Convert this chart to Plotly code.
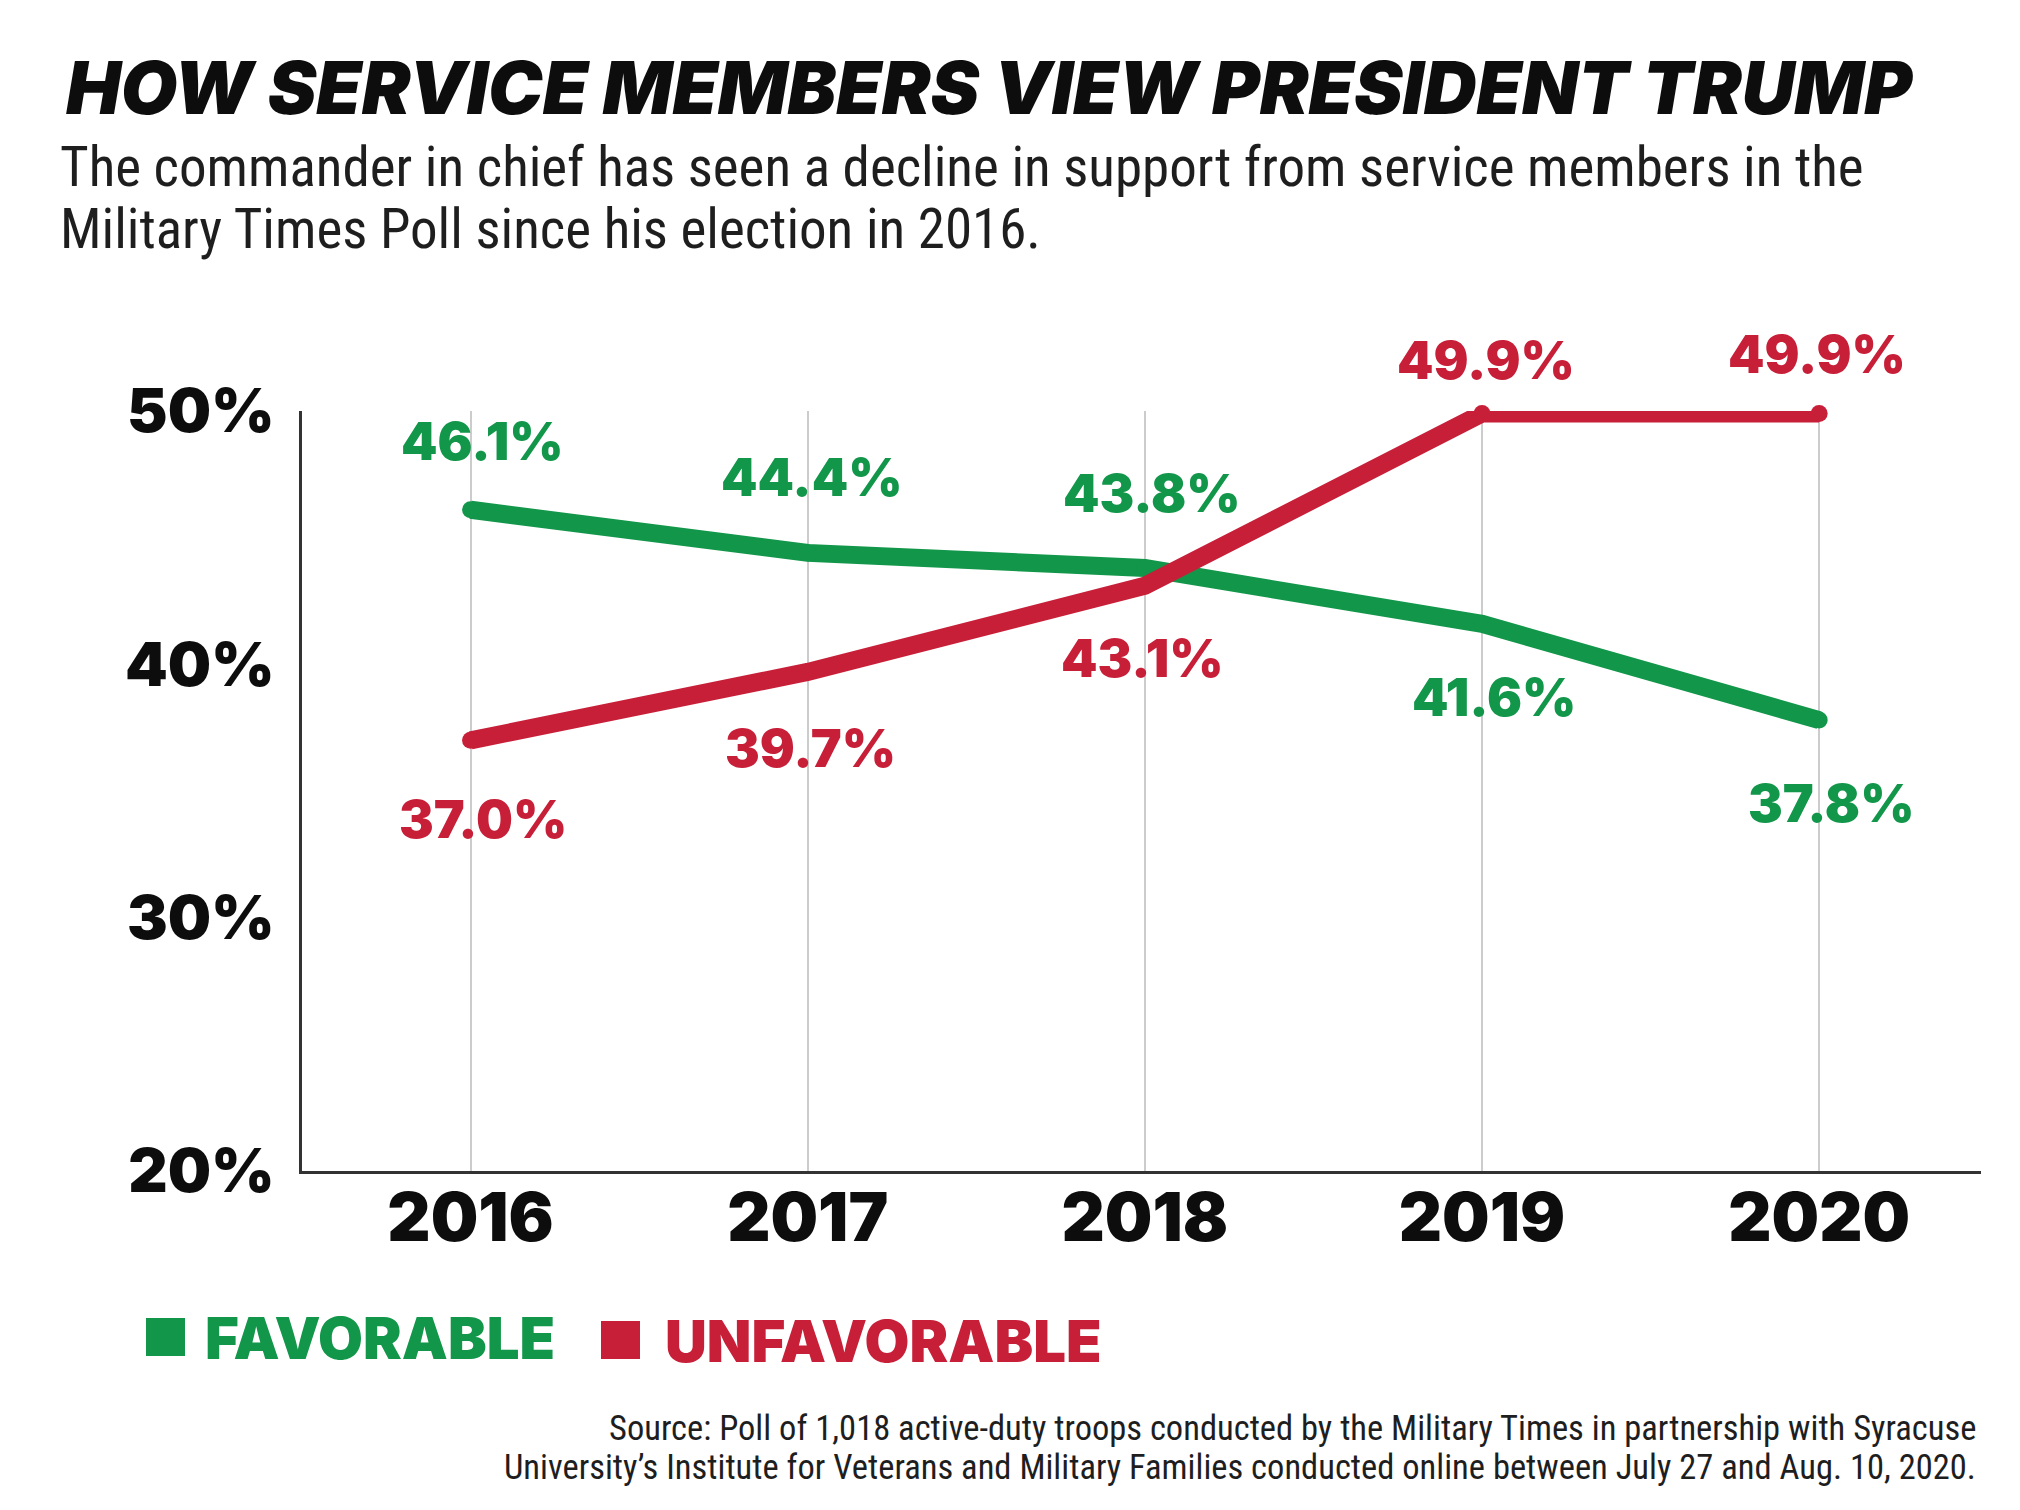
import plotly.graph_objects as go

# Poll results (percent)
years = [2016, 2017, 2018, 2019, 2020]
favorable = [46.1, 44.4, 43.8, 41.6, 37.8]
unfavorable = [37.0, 39.7, 43.1, 49.9, 49.9]
y_ticks = [20, 30, 40, 50]

GREEN = "#12964a"
RED = "#c81f39"
BOLD = "Inter"
BODY = "Roboto Condensed"

W, H = 2020, 1510
L, R, T, B = 302, 39, 411, 339
PW, PH = W - L - R, H - T - B


def px_x(x):
    # page pixel -> paper x
    return (x - L) / PW


def px_y(y):
    # page pixel -> paper y
    return (H - B - y) / PH


def note(x, y, text, font, xanchor="left", align="left"):
    return dict(x=px_x(x), y=px_y(y), xref="paper", yref="paper",
                xanchor=xanchor, yanchor="middle", align=align,
                showarrow=False, text=text, font=font)


fig = go.Figure()

for vals, color in [(favorable, GREEN), (unfavorable, RED)]:
    fig.add_trace(go.Scatter(x=years, y=vals, mode="lines+markers",
                             line=dict(color=color, width=18),
                             marker=dict(color=color, size=17),
                             cliponaxis=False, hoverinfo="skip",
                             showlegend=False))

# value labels, offset above / below each point (pixels)
fav_shift = [(12, 68), (4, 75), (7, 75), (12, -74), (12, -83)]
unf_shift = [(12, -79), (3, -77), (-2, -73), (4, 53), (-2, 59)]
annotations = []
for vals, shifts, color in [(favorable, fav_shift, GREEN),
                            (unfavorable, unf_shift, RED)]:
    for x, v, (dx, dy) in zip(years, vals, shifts):
        annotations.append(dict(x=x, y=v, xref="x", yref="y",
                                text=f"{v:.1f}%", showarrow=False,
                                xshift=dx, yshift=dy,
                                font=dict(family=BOLD, size=52, weight=900,
                                          color=color)))

annotations += [
    note(58, 167, "The commander in chief has seen a decline in support "
                  "from service members in the",
         dict(family=BODY, size=55, color="#1e1e1e")),
    note(58, 229, "Military Times Poll since his election in 2016.",
         dict(family=BODY, size=55, color="#1e1e1e")),
    note(203, 1338, "FAVORABLE",
         dict(family=BOLD, size=58, weight=900, color=GREEN)),
    note(663, 1341, "UNFAVORABLE",
         dict(family=BOLD, size=58, weight=900, color=RED)),
    note(1978, 1428, "Source: Poll of 1,018 active-duty troops conducted by "
                     "the Military Times in partnership with Syracuse",
         dict(family=BODY, size=34.5, color="#1e1e1e"), "right", "right"),
    note(1978, 1467, "University\u2019s Institute for Veterans and Military "
                     "Families conducted online between July 27 and Aug. "
                     "10, 2020.",
         dict(family=BODY, size=34.5, color="#1e1e1e"), "right", "right"),
]

shapes = [
    dict(type="rect", xref="paper", yref="paper",
         x0=px_x(146), x1=px_x(185), y0=px_y(1318), y1=px_y(1356),
         fillcolor=GREEN, line=dict(width=0)),
    dict(type="rect", xref="paper", yref="paper",
         x0=px_x(601), x1=px_x(640), y0=px_y(1321), y1=px_y(1359),
         fillcolor=RED, line=dict(width=0)),
]

fig.update_layout(
    width=W, height=H,
    margin=dict(l=L, r=R, t=T, b=B),
    paper_bgcolor="white", plot_bgcolor="white",
    title=dict(text="HOW SERVICE MEMBERS VIEW PRESIDENT TRUMP",
               xref="container", yref="container",
               x=989 / W, y=1 - 88 / H, xanchor="center", yanchor="middle",
               font=dict(family=BOLD, size=73, weight=900,
                         style="italic", color="#0d0d0d")),
    annotations=annotations, shapes=shapes,
    xaxis=dict(range=[2015.5, 2020.48], tickvals=years,
               showgrid=True, gridcolor="#cccccc", gridwidth=1.5,
               showline=True, linecolor="#333333", linewidth=3,
               zeroline=False, ticks="", ticklabelstandoff=-13,
               tickfont=dict(family=BOLD, size=67, weight=900,
                             color="#0d0d0d")),
    yaxis=dict(range=[20, 50], tickvals=y_ticks,
               ticktext=[f"{v}%" for v in y_ticks],
               showgrid=False, showline=True, linecolor="#333333",
               linewidth=3, zeroline=False, ticks="",
               ticklabelstandoff=12,
               tickfont=dict(family=BOLD, size=61, weight=900,
                             color="#0d0d0d")),
)

fig.write_html("out.html", config={"displayModeBar": False},
               post_script="document.body.style.margin='0';"
                           "document.body.style.overflow='hidden';")
